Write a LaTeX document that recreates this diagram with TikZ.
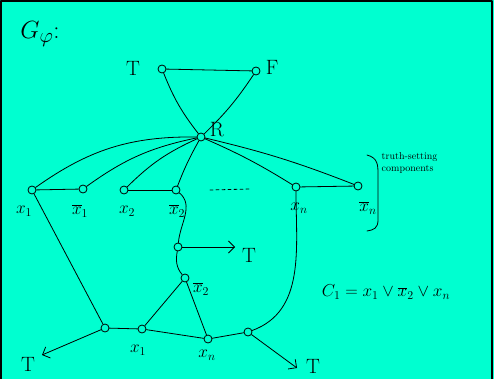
\documentclass[tikz,border=0pt]{standalone}
\usetikzlibrary{arrows.meta}
\definecolor{board}{RGB}{0,255,208}
\begin{document}
\begin{tikzpicture}[x=1pt, y=1pt, line join=round, line cap=round, thick,
    vtx/.style={circle, draw, inner sep=0pt, minimum size=8pt},
    lab/.style={font=\huge},
    sub/.style={font=\LARGE},
    arr/.style={-{Straight Barb[length=6pt]}}]
  \useasboundingbox (0,0) rectangle (494,-379);
  \fill[board] (0,0) rectangle (494,-379);
  \draw[line width=2.5pt] (1,-379) -- (1,-1) -- (492,-1) -- (492,-379);
  % title
  \node[font=\Huge] (title) at (40,-34) {$G_\varphi$:};
  % palette triangle
  \node[vtx] (T) at (162,-69) {};
  \node[vtx] (F) at (256,-71) {};
  \node[vtx] (R) at (201,-137) {};
  \node[lab] at (133,-68) {T};
  \node[lab] at (272,-67) {F};
  \node[lab] at (217,-130) {R};
  \draw (T) -- (F);
  \draw (T) to[bend right=8] (R);
  \draw (F) to[bend left=6] (R);
  % variable gadgets
  \node[vtx] (x1) at (32,-190) {};
  \node[vtx] (x1b) at (83,-189) {};
  \node[vtx] (x2) at (124,-190) {};
  \node[vtx] (x2b) at (176,-190) {};
  \node[vtx] (xn) at (296,-187) {};
  \node[vtx] (xnb) at (358,-186) {};
  \node[sub] at (24,-211) {$x_1$};
  \node[sub] at (80,-211) {$\overline{x}_1$};
  \node[sub] at (127,-211) {$x_2$};
  \node[sub] at (177,-211) {$\overline{x}_2$};
  \node[sub] at (299,-208) {$x_n$};
  \node[sub] at (368,-208) {$\overline{x}_n$};
  \draw[dashed] (210,-190) -- (250,-189);
  \foreach \v/\b in {x1/18, x1b/12, x2/10, x2b/4} \draw (R) to[bend right=\b] (\v);
  \foreach \v/\b in {xn/4, xnb/4} \draw (R) to[bend left=\b] (\v);
  \draw (x1) -- (x1b);
  \draw (x2) -- (x2b);
  \draw (xn) -- (xnb);
  % brace and note
  \draw (367,-155) .. controls (378,-158) and (378,-165) .. (378,-175)
        -- (378,-220) .. controls (378,-228) and (374,-230) .. (367,-231);
  \node[font=\normalsize, align=left, anchor=west] (note) at (378,-163) {truth-setting\\components};
  % clause gadget
  \node[vtx] (ct) at (178,-247) {};
  \node[vtx] (cx) at (185,-278) {};
  \node[vtx] (ca) at (105,-328) {};
  \node[vtx] (cb) at (142,-329) {};
  \node[vtx] (cc) at (208,-339) {};
  \node[vtx] (cd) at (248,-332) {};
  \coordinate (tt) at (235,-247);
  \coordinate (ta) at (42,-355);
  \coordinate (td) at (297,-368);
  \node[lab] at (249,-255) {T};
  \node[lab] at (28,-364) {T};
  \node[lab] at (313,-366) {T};
  \node[sub] at (201,-289) {$\overline{x}_2$};
  \node[sub] at (138,-350) {$x_1$};
  \node[sub] at (207,-355) {$x_n$};
  \draw (x2b) to[out=-40, in=85] (ct);
  \draw (ct) to[out=-100, in=130] (cx);
  \draw[arr] (ct) -- (tt);
  \draw (x1) -- (ca);
  \draw (xn) to[out=-90, in=20] (cd);
  \draw (ca) -- (cb) -- (cc) -- (cd);
  \draw (cb) -- (cx) -- (cc);
  \draw[arr] (ca) -- (ta);
  \draw[arr] (cd) -- (td);
  % clause
  \node[font=\LARGE] (clause) at (386,-292) {$C_1 = x_1 \vee \overline{x}_2 \vee x_n$};
\end{tikzpicture}
\end{document}
